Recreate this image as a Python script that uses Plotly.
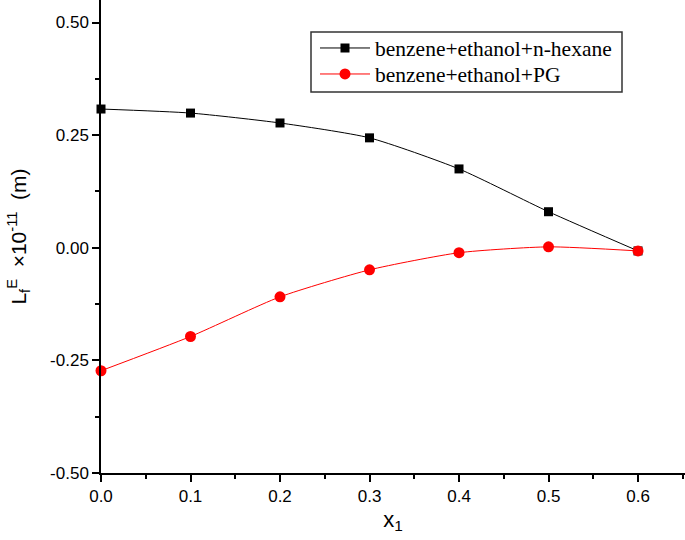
import plotly.graph_objects as go

x1 = [0.0, 0.1, 0.2, 0.3, 0.4, 0.5, 0.6]
hexane = [0.308, 0.299, 0.277, 0.244, 0.175, 0.080, -0.007]
pg = [-0.273, -0.197, -0.109, -0.049, -0.011, 0.002, -0.007]
names = ["benzene+ethanol+n-hexane", "benzene+ethanol+PG"]

fig = go.Figure()
fig.add_trace(go.Scatter(x=x1, y=hexane, name=names[0], mode="lines+markers", legend="legend",
                         line=dict(color="black", width=1, shape="spline", smoothing=0.6),
                         marker=dict(symbol="square", size=9, color="black"), cliponaxis=False))
fig.add_trace(go.Scatter(x=x1, y=pg, name=names[1], mode="lines+markers", legend="legend2",
                         line=dict(color="red", width=1, shape="spline", smoothing=0.6),
                         marker=dict(symbol="circle", size=11, color="red"), cliponaxis=False))

# plot area: x 101..685, y 0..473 px
def px(xp):
    return (xp - 101) / 584
def py(yp):
    return 1 - yp / 473

legfont = dict(family="Liberation Serif, Times New Roman", size=21.5, color="black")
tickfont = dict(family="Liberation Sans, Arial", size=17, color="black")
fig.update_layout(
    width=685, height=540,
    margin=dict(l=101, r=0, t=0, b=67),
    plot_bgcolor="white", paper_bgcolor="white",
    showlegend=True,
    legend=dict(x=px(315), y=py(48), xanchor="left", yanchor="middle",
                borderwidth=0, bgcolor="rgba(0,0,0,0)", font=legfont, itemwidth=50),
    legend2=dict(x=px(315), y=py(74), xanchor="left", yanchor="middle",
                 borderwidth=0, bgcolor="rgba(0,0,0,0)", font=legfont, itemwidth=50),
    shapes=[dict(type="rect", xref="paper", yref="paper", x0=px(311), x1=px(622), y0=py(92), y1=py(32),
                 line=dict(color="#333", width=1.5), fillcolor="white", layer="below")],
    xaxis=dict(range=[0, 0.6525], tickvals=[0, 0.1, 0.2, 0.3, 0.4, 0.5, 0.6],
               ticktext=["0.0", "0.1", "0.2", "0.3", "0.4", "0.5", "0.6"],
               ticks="outside", ticklen=7, tickwidth=1.5, tickcolor="black",
               minor=dict(tickvals=[0.05, 0.15, 0.25, 0.35, 0.45, 0.55, 0.65], ticks="outside", ticklen=4, tickwidth=1.5, tickcolor="black"),
               showline=True, linecolor="black", linewidth=1.5, showgrid=False, zeroline=False,
               tickfont=tickfont, automargin=False,
               title=dict(text="x<sub>1</sub>", font=dict(family="Liberation Sans, Arial", size=22, color="black"), standoff=6)),
    yaxis=dict(range=[-0.5, 0.55], tickvals=[-0.5, -0.25, 0, 0.25, 0.5],
               ticktext=["-0.50", "-0.25", "0.00", "0.25", "0.50"],
               ticks="outside", ticklen=7, tickwidth=1.5, tickcolor="black",
               minor=dict(tickvals=[-0.375, -0.125, 0.125, 0.375], ticks="outside", ticklen=4, tickwidth=1.5, tickcolor="black"),
               showline=True, linecolor="black", linewidth=1.5, showgrid=False, zeroline=False,
               tickfont=tickfont, automargin=False,
               title=dict(text="L<sub>f</sub><sup>E</sup>\u00a0\u00a0×10<sup>-11</sup>\u00a0\u00a0(m)",
                          font=dict(family="Liberation Sans, Arial", size=21, color="black"), standoff=18)),
)
fig.write_html("out.html", config={"displayModeBar": False},
               post_script="document.body.style.margin='0';document.body.style.overflow='hidden';")
